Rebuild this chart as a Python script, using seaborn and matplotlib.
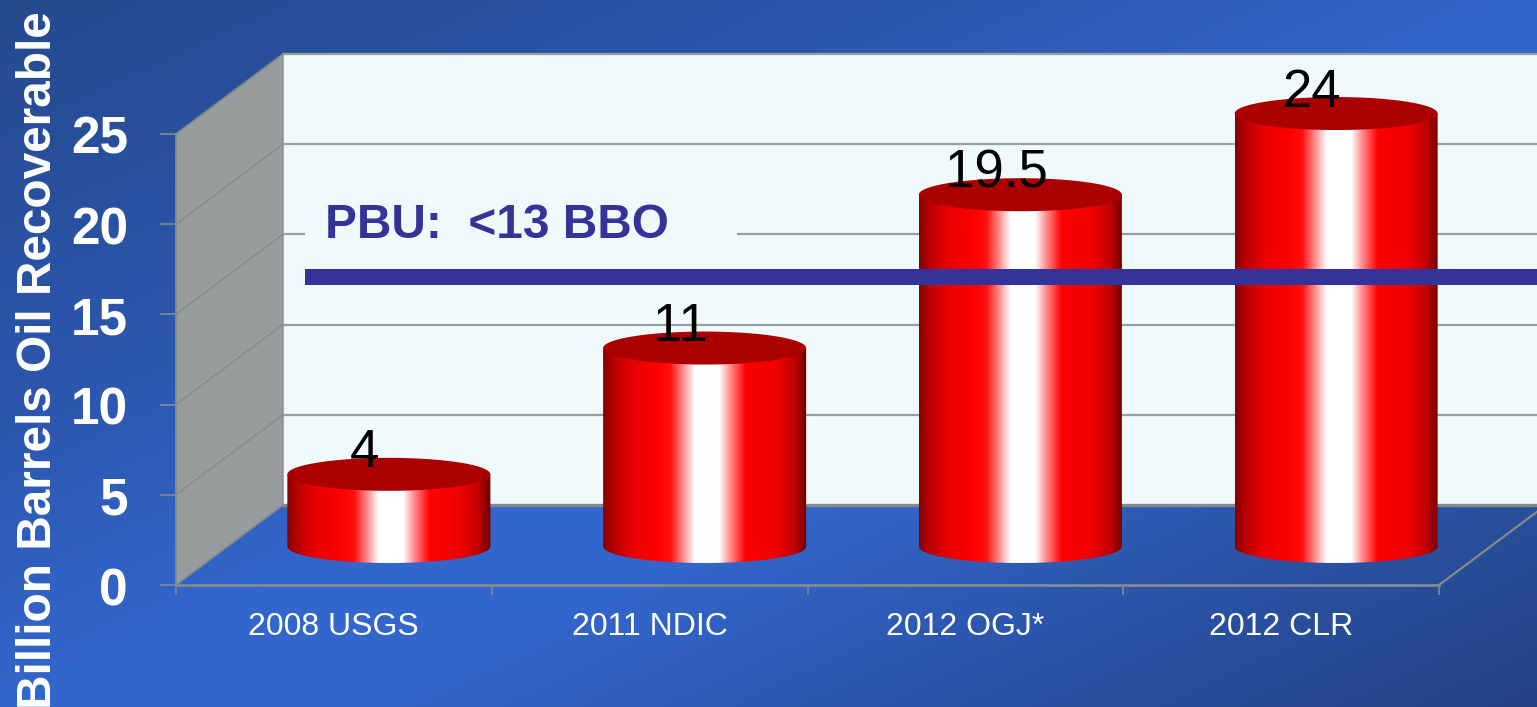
import numpy as np
import matplotlib
matplotlib.use("Agg")
import matplotlib.pyplot as plt
import seaborn as sns
from matplotlib.colors import LinearSegmentedColormap
from matplotlib.patches import Polygon, Rectangle
from matplotlib.transforms import Affine2D
from matplotlib.ticker import FixedLocator

categories = ["2008 USGS", "2011 NDIC", "2012 OGJ*", "2012 CLR"]
values = [4, 11, 19.5, 24]
value_labels = ["4", "11", "19.5", "24"]
y_ticks = [0, 5, 10, 15, 20, 25]
y_title = "Billion Barrels Oil Recoverable"
note = "PBU:  <13 BBO"

W, H = 1537, 707
GREY = "#858a8a"
WALL = "#f0fafb"
NAVY = "#333399"

sns.set_theme(style="white")
plt.rcParams["font.family"] = ["Liberation Sans", "DejaVu Sans"]

fig = plt.figure(figsize=(W / 100, H / 100), dpi=100)

# diagonal background
bg = fig.add_axes([0, 0, 1, 1], zorder=0)
bg.axis("off")
xx, yy = np.meshgrid(np.linspace(0, 1, 300), np.linspace(0, 1, 200))
bg_cmap = LinearSegmentedColormap.from_list(
    "bg", [(0, "#264a8e"), (0.3, "#2c57ae"), (0.5, "#3366cc"), (0.62, "#3366cc"), (0.82, "#2a52a4"), (1, "#244385")])
bg.imshow((xx + yy) / 2, cmap=bg_cmap, vmin=0, vmax=1, extent=(0, 1, 0, 1), origin="upper", aspect="auto")

ax = fig.add_axes([176 / W, (H - 585) / H, 1263 / W, 451 / H], zorder=1)
ax.patch.set_alpha(0)

sns.barplot(x=categories, y=values, width=0.643, color="red", ax=ax, zorder=4)
ax.set_xlim(-0.5, 3.5)
ax.set_ylim(0, 25)

# depth offsets in pixels: back wall, and middle of the floor for the bars
tr_back = ax.transData + Affine2D().translate(107, 80)
tr_mid = ax.transData + Affine2D().translate(55, 38.5)

# walls
ax.add_patch(Rectangle((-0.5, 0), 4, 25, fc=WALL, ec="none", transform=tr_back, clip_on=False, zorder=1))
x0, x1 = ax.transData.transform((-0.5, 0))[0], ax.transData.transform((3.5, 0))[0]
y_px = {v: ax.transData.transform((0, v))[1] for v in y_ticks}
ax.add_patch(Polygon([(x0, y_px[0]), (x0 + 107, y_px[0] + 80), (x0 + 107, y_px[25] + 80), (x0, y_px[25])],
                     fc="#979d9d", ec=GREY, lw=1, transform=None, clip_on=False, zorder=1))
for v in y_ticks:
    ax.plot([-0.5, 3.5], [v, v], color="#9a9e9e" if v else GREY, lw=1.6 if v else 2.4,
            transform=tr_back, clip_on=False, zorder=2)
    ax.plot([x0, x0 + 107], [y_px[v], y_px[v] + 80], color=GREY, lw=1, transform=None, clip_on=False, zorder=2)
ax.plot([x1, x1 + 107], [y_px[0], y_px[0] + 80], color=GREY, lw=1.6, transform=None, clip_on=False, zorder=2)

# cylinders
body_cmap = LinearSegmentedColormap.from_list(
    "body", [(0, "#880000"), (0.05, "#b80000"), (0.14, "#e80000"), (0.27, "#ff0000"), (0.33, "#ff1010"),
             (0.45, "#ffffff"), (0.57, "#ffffff"), (0.63, "#ff8080"), (0.7, "#ff0000"), (0.85, "#f00000"),
             (0.94, "#c00000"), (1, "#700000")])
ell_h = 33 / (451 / 25)
t = np.linspace(0, 2 * np.pi, 120)
for bar, val in zip(ax.patches[:len(values)], values):
    cx = bar.get_x() + bar.get_width() / 2
    hw = bar.get_width() / 2
    bar.set_transform(tr_mid)
    bar.set_clip_on(False)
    bar.set_edgecolor("none")
    bar.set_visible(False)
    lower = t[60:]
    outline = np.column_stack([cx + hw * np.cos(lower), ell_h / 2 * np.sin(lower)])
    outline = np.vstack([outline, [cx + hw, val], [cx - hw, val]])
    clip = Polygon(outline, transform=tr_mid, fc="none", ec="none")
    ax.add_patch(clip)
    clip.set_clip_on(False)
    im = ax.imshow(np.linspace(0, 1, 256).reshape(1, -1), cmap=body_cmap, aspect="auto",
                   extent=(cx - hw, cx + hw, -ell_h / 2, val), zorder=5)
    im.set_transform(tr_mid)
    im.set_clip_box(fig.bbox)
    im.set_clip_path(clip)
    top = Polygon(np.column_stack([cx + hw * np.cos(t), val + ell_h / 2 * np.sin(t)]), fc="#aa0000", ec="none",
                  transform=tr_mid, clip_on=False, zorder=6)
    ax.add_patch(top)

ax.set_xlim(-0.5, 3.5)
ax.set_ylim(0, 25)

for i, (val, lab) in enumerate(zip(values, value_labels)):
    ax.annotate(lab, xy=(i, val), xycoords=tr_mid, xytext=(-24, 7), textcoords="offset pixels",
                ha="center", va="baseline", fontsize=38, color="black", zorder=7, annotation_clip=False)

# axes
sns.despine(ax=ax, top=True, right=True)
for side in ["left", "bottom"]:
    ax.spines[side].set_color(GREY)
    ax.spines[side].set_zorder(3)
ax.spines["left"].set_linewidth(1.2)
ax.spines["bottom"].set_linewidth(2)
ax.set_yticks(y_ticks)
ax.tick_params(axis="y", length=11.5, width=1.2, color=GREY, pad=23, labelsize=37, labelcolor="white", left=True)
for lab in ax.get_yticklabels():
    lab.set_fontweight("bold")
    lab.set_transform(lab.get_transform() + Affine2D().translate(0, -1))
ax.set_xticks(range(len(categories)))
ax.set_xticklabels(categories)
ax.tick_params(axis="x", which="major", length=0, pad=19.5, labelsize=23, labelcolor="white")
ax.xaxis.set_minor_locator(FixedLocator(np.arange(-0.5, 4, 1)))
ax.tick_params(axis="x", which="minor", length=7, width=1.2, color=GREY, bottom=True)
ax.set_ylabel(y_title, fontsize=34.4, fontweight="bold", color="white")
ax.yaxis.set_label_coords(61 / W, 1 - 360 / H, transform=fig.transFigure)

# PBU note
fig.add_artist(Rectangle((305 / W, 1 - 262 / H), 432 / W, 82 / H, fc=WALL, ec="none",
                         transform=fig.transFigure, zorder=2))
fig.text(325 / W, 1 - 238 / H, note, color=NAVY, fontsize=34.4, fontweight="bold", va="baseline", zorder=3)
fig.add_artist(Rectangle((305 / W, 1 - 285 / H), (W - 305) / W, 16 / H, fc=NAVY, ec="none",
                         transform=fig.transFigure, zorder=3))

fig.savefig("out.png", dpi=100)
